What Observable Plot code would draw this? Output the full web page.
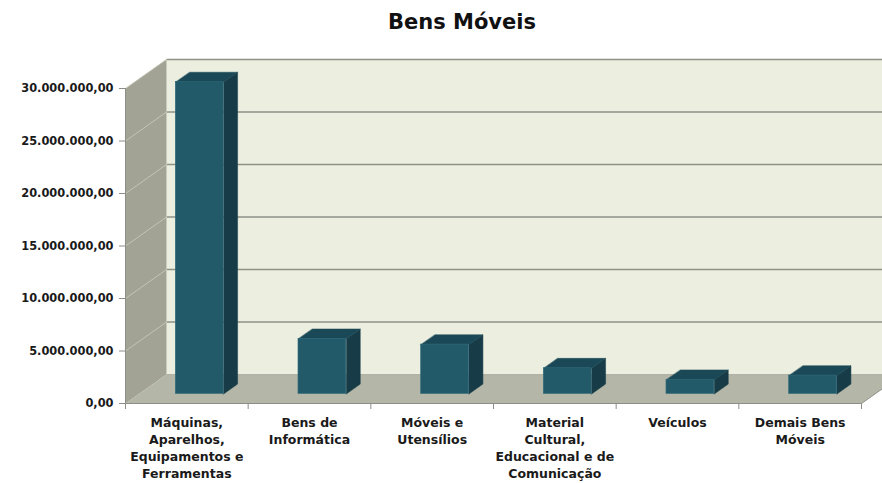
<!DOCTYPE html>
<html>
<head>
<meta charset="utf-8">
<script src="https://cdn.jsdelivr.net/npm/d3@7"></script>
<script src="https://cdn.jsdelivr.net/npm/@observablehq/plot@0.6"></script>
<style>
  html, body { margin: 0; padding: 0; background: #fff; }
  #wrap { width: 882px; height: 483px; overflow: hidden; position: relative; }
  #title { box-sizing: border-box; width: 882px; height: 48px; padding-left: 42px; text-align: center;
           font-family: "DejaVu Sans", sans-serif; font-weight: bold; font-size: 21px; line-height: 44px; color: #111; }
  svg { overflow: visible; }
</style>
</head>
<body>
<div id="wrap">
  <div id="title"></div>
  <div id="chart"></div>
</div>
<script>
// ---- data ----
const title = "Bens Móveis";
const categories = [
  "Máquinas,\nAparelhos,\nEquipamentos e\nFerramentas",
  "Bens de\nInformática",
  "Móveis e\nUtensílios",
  "Material\nCultural,\nEducacional e de\nComunicação",
  "Veículos",
  "Demais Bens\nMóveis"
];
const values = [29700000, 5250000, 4700000, 2450000, 1350000, 1750000];
const yTicks = [0, 5000000, 10000000, 15000000, 20000000, 25000000, 30000000];

// ---- oblique 3D projection expressed in data units ----
const n = categories.length;
const yMax = 30000000;
const DX = 0.334;      // depth shift along x (category units)
const DY = 2760000;    // depth shift along y (value units)
const d0 = 0.33, d1 = 0.67;      // bar front / back depth fraction
const bx0 = 0.30, bx1 = 0.69;    // bar front face within category

const ptFmt = d3.formatLocale({decimal: ",", thousands: ".", grouping: [3], currency: ["R$ ", ""]}).format(",.2f");

function poly(id, pts) { return pts.map(([x, y]) => ({id, x, y})); }

const wall = poly("wall", [[DX, DY], [n + DX + 0.5, DY], [n + DX + 0.5, yMax + DY], [DX, yMax + DY]]);
const side = poly("side", [[0, 0], [DX, DY], [DX, yMax + DY], [0, yMax]]);
const floor = poly("floor", [[0, 0], [n, 0], [n + DX, DY], [DX, DY]]);

const barSides = [], barTops = [];
values.forEach((v, i) => {
  const xr = i + bx1;
  const xl = i + bx0;
  barSides.push(...poly("s" + i, [
    [xr + d0 * DX, d0 * DY], [xr + d1 * DX, d1 * DY], [xr + d1 * DX, v + d1 * DY], [xr + d0 * DX, v + d0 * DY]
  ]));
  barTops.push(...poly("t" + i, [
    [xl + d0 * DX, v + d0 * DY], [xr + d0 * DX, v + d0 * DY], [xr + d1 * DX, v + d1 * DY], [xl + d1 * DX, v + d1 * DY]
  ]));
});

const font = "'DejaVu Sans', sans-serif";

const chart = Plot.plot({
  width: 882,
  height: 435,
  marginLeft: 125,
  marginRight: 21,
  marginTop: 40,
  marginBottom: 80,
  style: {fontFamily: font, background: "transparent", overflow: "visible"},
  x: {type: "linear", domain: [0, n], axis: null},
  y: {domain: [0, yMax], axis: null},
  marks: [
    Plot.line(wall, {x: "x", y: "y", z: "id", fill: "#ecefdf", stroke: "none", curve: "linear-closed"}),
    Plot.line(side, {x: "x", y: "y", z: "id", fill: "#a2a394", stroke: "none", curve: "linear-closed"}),
    Plot.line(floor, {x: "x", y: "y", z: "id", fill: "#b4b6a8", stroke: "none", curve: "linear-closed"}),
    // gridlines on back wall
    Plot.link(yTicks.filter(v => v > 0), {x1: DX, x2: n + DX + 0.5, y1: v => v + DY, y2: v => v + DY, stroke: "#8e9186", strokeWidth: 1.3}),
    // gridlines on side wall
    Plot.link(yTicks.filter(v => v > 0), {x1: 0, x2: DX, y1: v => v, y2: v => v + DY, stroke: "#c3c5b6", strokeWidth: 1}),
    // floor back edge and side wall edges
    Plot.link([0], {x1: DX, x2: DX, y1: DY, y2: yMax + DY, stroke: "#c8cabb", strokeWidth: 0.8}),
    Plot.link([0], {x1: DX, x2: n + DX + 0.5, y1: DY, y2: DY, stroke: "#a6a899", strokeWidth: 0.8}),
    Plot.link([0], {x1: n, x2: n + DX, y1: 0, y2: DY, stroke: "#8f918a", strokeWidth: 1}),
    // bars
    Plot.line(barSides, {x: "x", y: "y", z: "id", fill: "#173c47", stroke: "#173c47", strokeWidth: 0.5, curve: "linear-closed"}),
    Plot.line(barTops, {x: "x", y: "y", z: "id", fill: "#1b4856", stroke: "#1b4856", strokeWidth: 0.5, curve: "linear-closed"}),
    Plot.rect(values, {
      x1: (d, i) => i + bx0 + d0 * DX, x2: (d, i) => i + bx1 + d0 * DX,
      y1: d0 * DY, y2: d => d + d0 * DY,
      fill: "#235a6a", stroke: "#2e6b7b", strokeWidth: 0.6
    }),
    // front axes
    Plot.ruleX([0], {y1: 0, y2: yMax, stroke: "#8c8e88", strokeWidth: 1}),
    Plot.ruleY([0], {x1: 0, x2: n, stroke: "#8c8e88", strokeWidth: 1}),
    Plot.axisY({ticks: yTicks, tickFormat: ptFmt, tickSize: 6, tickPadding: 6, stroke: "#8c8e88", fill: "#1a1a1a",
                fontSize: 11.4, fontWeight: "bold", label: null}),
    Plot.axisX({ticks: d3.range(n + 1), tickFormat: () => "", tickSize: 6, stroke: "#8c8e88", label: null}),
    Plot.text(categories, {x: (d, i) => i + 0.5, frameAnchor: "bottom", lineAnchor: "top", dy: 11,
                           fontSize: 12.5, fontWeight: "bold", fill: "#1a1a1a", lineHeight: 1.37})
  ]
});

document.getElementById("title").textContent = title;
document.getElementById("chart").appendChild(chart);
</script>
</body>
</html>
